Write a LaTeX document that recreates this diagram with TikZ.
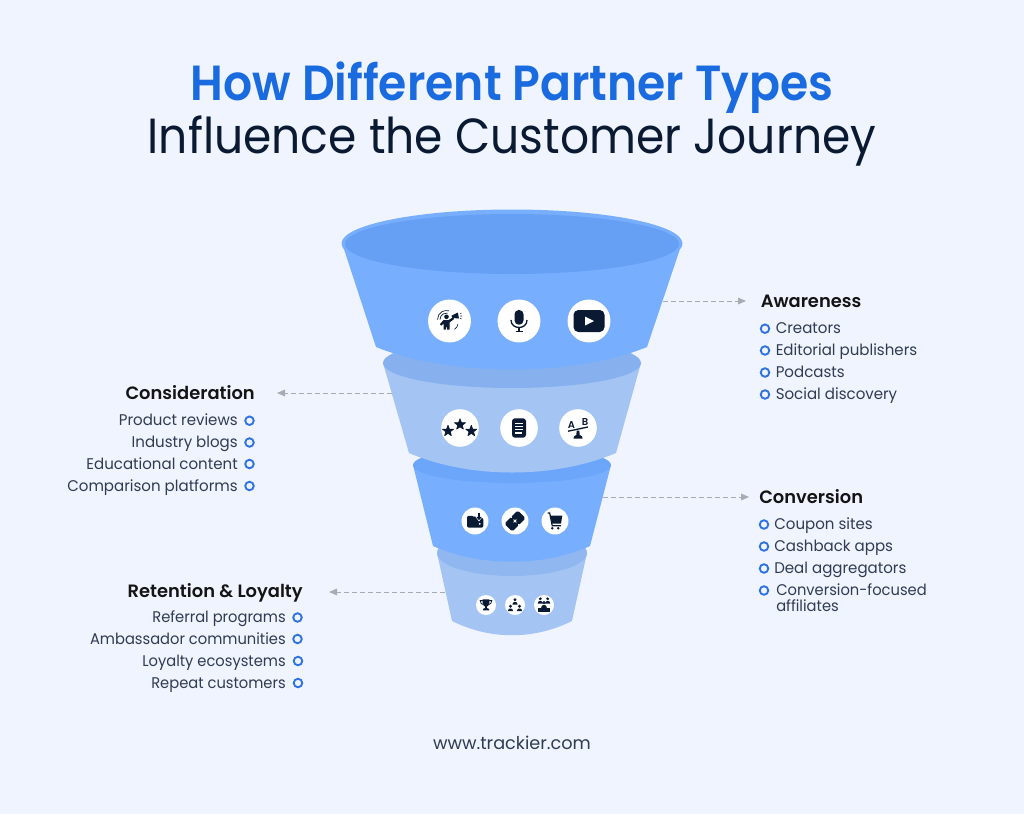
\documentclass[tikz,border=0pt]{standalone}
\usepackage{fontspec}
\usetikzlibrary{arrows.meta}
\setmainfont{Poppins}
\newfontfamily\semifont{Poppins SemiBold}
\newfontfamily\titlebold[FakeStretch=0.926]{Poppins SemiBold}
\newfontfamily\titlereg[FakeStretch=0.924]{Poppins}
\newfontfamily\itemA[FakeStretch=0.972]{Poppins}
\newfontfamily\itemB[FakeStretch=0.95]{Poppins}
\definecolor{bgc}{HTML}{EFF4FE}
\definecolor{blueA}{HTML}{78AEFE}
\definecolor{blueB}{HTML}{65A0F5}
\definecolor{blueC}{HTML}{6BA6FB}
\definecolor{lightA}{HTML}{A4C5F4}
\definecolor{lightB}{HTML}{87B0EE}
\definecolor{lightC}{HTML}{90B7F0}
\definecolor{ink}{HTML}{0B1A33}
\definecolor{titleblue}{HTML}{1A6BE0}
\definecolor{bullet}{HTML}{2F72E4}
\definecolor{dashc}{HTML}{A8ABB0}
\tikzset{
 x=0.75pt,y=-0.75pt,
 itemtext/.style={font=\fontsize{11.6}{12}\itemA,text=ink!85,inner sep=0pt},
 itemtextb/.style={font=\fontsize{11.6}{12}\itemB,text=ink!85,inner sep=0pt},
 headtext/.style={font=\fontsize{13.4}{14}\semifont,text=black!92,inner sep=0pt},
 bulletdot/.style={circle,draw=bullet,line width=1.4pt,fill=none,inner sep=0pt,minimum size=6.4pt},
 link/.style={draw=dashc,line width=0.75pt,dash pattern=on 3.4pt off 2.6pt,-{Triangle[length=6pt,width=5pt,fill=dashc]}},
 iconbg/.style={circle,fill=white,inner sep=0pt},
}
\newcommand\rstar[3]{\filldraw[ink,line width=0.5pt,line join=round,shift={(#1,#2)}] (0,-#3)
 -- (0.24*#3,-0.33*#3) -- (0.95*#3,-0.31*#3) -- (0.39*#3,0.13*#3) -- (0.588*#3,0.81*#3)
 -- (0,0.41*#3) -- (-0.588*#3,0.81*#3) -- (-0.39*#3,0.13*#3) -- (-0.95*#3,-0.31*#3) -- (-0.24*#3,-0.33*#3) -- cycle;}
\newcommand\pers[3]{\fill[ink,shift={(#1,#2)},scale=#3] (0,-2.2) circle (1.6) (-2.6,2.6) .. controls (-2.6,0.2) and (-1.3,0) .. (0,0) .. controls (1.3,0) and (2.6,0.2) .. (2.6,2.6) -- cycle;}
\begin{document}
\begin{tikzpicture}
\useasboundingbox (0,0) rectangle (1024,814);
\fill[bgc] (0,0) rectangle (1024,814);

% Title
\node[inner sep=0pt,anchor=base,text=titleblue,font=\fontsize{37}{40}\titlebold] (title1) at (512,100.7) {How Different Partner Types};
\node[inner sep=0pt,anchor=base,text=ink,font=\fontsize{37}{40}\titlereg] (title2) at (512,153.3) {Influence the Customer Journey};

% Tier 4
\fill[lightA] (437,553) -- (452,621) .. controls (490,640) and (534,640) .. (572,621) -- (587,553) -- cycle;
\fill[lightC] (512,553) ellipse (75 and 23);
% Tier 3
\fill[blueA] (413,465) -- (433,546) .. controls (480,567) and (544,567) .. (590,546) -- (611,465) -- cycle;
\fill[blueC] (512,465) ellipse (99 and 18);
% Tier 2
\fill[lightA] (383,363) -- (409,453) .. controls (470,479) and (554,479) .. (616,453) -- (641,363) -- cycle;
\fill[lightB] (512,363) ellipse (129 and 25);
% Tier 1
\fill[blueA] (342,243) -- (376,347) .. controls (450,377) and (574,377) .. (647,347) -- (682,243) -- cycle;
\fill[blueA] (512,243.5) ellipse (170.5 and 34);
\fill[blueB] (512,244) ellipse (167 and 30);

% Icon discs
\node[iconbg,minimum size=32.2pt] (i1) at (449.5,321) {};
\node[iconbg,minimum size=32.2pt] (i2) at (519,321) {};
\node[iconbg,minimum size=32.2pt] (i3) at (589,321) {};
\node[iconbg,minimum size=28.2pt] (i4) at (460,428) {};
\node[iconbg,minimum size=28.2pt] (i5) at (519,428) {};
\node[iconbg,minimum size=28.2pt] (i6) at (578,428) {};
\node[iconbg,minimum size=20.2pt] (i7) at (475,521) {};
\node[iconbg,minimum size=20.2pt] (i8) at (515,521) {};
\node[iconbg,minimum size=20.2pt] (i9) at (555,521) {};
\node[iconbg,minimum size=15pt] (i10) at (486,605) {};
\node[iconbg,minimum size=15pt] (i11) at (515,605) {};
\node[iconbg,minimum size=15pt] (i12) at (544,605) {};

% Icon 1: person with megaphone
\begin{scope}[shift={(449.5,321)}]
 \fill[ink] (-3,-4.2) circle (2.3);
 \fill[ink] (-6,-1) -- (-1,-1) -- (3.5,-3.7) -- (4.6,-2) -- (0,1.5) -- (0,8.5) -- (-2.3,8.5) -- (-3,4.5) -- (-3.8,8.5) -- (-6,8.5) -- (-5.8,2.5) -- (-8.3,4.7) -- (-9.7,3.3) -- cycle;
 \fill[ink] (2,-5.3) -- (8.3,-8.5) -- (9.5,-2.5) -- (3,-3) -- cycle;
 \draw[ink,line width=0.5pt] (-12,-1.5) arc (180:285:9);
 \draw[ink,line width=0.5pt] (-9.5,-1.5) arc (180:280:6.5);
 \draw[ink,line width=0.5pt] (8.3,3.3) .. controls (8,5.5) and (7,7) .. (5,8.3);
 \draw[ink,line width=0.4pt] (10.5,-7) -- (12,-8) (10.8,-5) -- (12.5,-5) (10.5,-3) -- (12,-2);
\end{scope}

% Icon 2: microphone
\begin{scope}[shift={(519,321)}]
 \fill[ink,rounded corners=3.2pt] (-4.5,-11) rectangle (4.5,3.7);
 \draw[ink,line width=1pt] (-8,-1) .. controls (-8,9) and (8,9) .. (8,-1);
 \draw[ink,line width=1pt] (0,6) -- (0,10.5) (-3.5,10.5) -- (3.5,10.5);
\end{scope}

% Icon 3: video player
\begin{scope}[shift={(589,321)}]
 \fill[ink,rounded corners=3.6pt] (-15.5,-11) rectangle (15.5,11);
 \fill[white] (-4,-4.5) -- (5,0) -- (-4,4.5) -- cycle;
\end{scope}

% Icon 4: stars
\rstar{448}{431}{5.8}
\rstar{460}{424.5}{5.8}
\rstar{471.3}{431}{5.8}

% Icon 5: document
\begin{scope}[shift={(519,428)}]
 \fill[ink,rounded corners=2.2pt] (-7,-9.7) rectangle (7,9.7);
 \draw[white,line width=0.8pt] (-3.7,-4.6) -- (3.7,-4.6) (-3.7,-1.4) -- (3.7,-1.4) (-3.7,1.8) -- (3.7,1.8) (-3.7,5) -- (2.5,5);
\end{scope}

% Icon 6: balance A B
\begin{scope}[shift={(578,428)}]
 \draw[ink,line width=1pt] (-10,3.2) -- (10,-1);
 \fill[ink] (-1.3,2.5) -- (1.3,2.5) -- (1.7,7) .. controls (4,7.5) and (4.5,9) .. (4.5,10.5) -- (-4.5,10.5) .. controls (-4.5,9) and (-4,7.5) .. (-1.7,7) -- cycle;
 \node[inner sep=0pt,text=ink,font=\fontsize{7.5}{8}\semifont] (lblA) at (-6.5,-3.3) {A};
 \node[inner sep=0pt,text=ink,font=\fontsize{7.5}{8}\semifont] (lblB) at (7,-6) {B};
\end{scope}

% Icon 7: wallet with arrow
\begin{scope}[shift={(475,521)}]
 \fill[ink,rounded corners=1.5pt] (-8,-5.2) -- (-1,-5.2) -- (0.5,-3.2) -- (8.3,-3.2) -- (8.3,6.7) -- (-8,6.7) -- cycle;
 \fill[white] (4.8,2.8) circle (1);
 \fill[white] (0.6,-4) -- (7.4,-4) -- (4,0.4) -- cycle;
 \draw[ink,line width=0.8pt] (4,-8.3) -- (4,-2);
 \draw[ink,line width=0.8pt] (1.9,-4) -- (4,-1.6) -- (6.1,-4);
\end{scope}

% Icon 8: ticket
\begin{scope}[shift={(515,521)},rotate=-45]
 \fill[ink,rounded corners=1.2pt] (-5.5,-9.5) rectangle (5.5,9.5);
 \fill[white] (-5.5,0) circle (1.2) (5.5,0) circle (1.2);
 \draw[white,line width=0.6pt] (-2,0) -- (2,0) (0,-2) -- (0,2);
\end{scope}

% Icon 9: cart
\begin{scope}[shift={(555,521)}]
 \draw[ink,line width=0.9pt] (-7.5,-8) -- (-5.3,-8) -- (-2.8,4.7) -- (6,4.7);
 \fill[ink] (-4.5,-5.3) -- (7.3,-5.3) -- (6,2.7) -- (-3,2.7) -- cycle;
 \fill[ink] (-2.7,7.2) circle (1.4) (3.2,7.2) circle (1.4);
\end{scope}

% Icon 10: trophy
\begin{scope}[shift={(486,605)}]
 \fill[ink] (-3.4,-5.7) -- (3.4,-5.7) -- (3.4,-1.7) .. controls (3.4,0.8) and (1,1.3) .. (0.9,1.5) -- (0.9,3) -- (3,3.9) -- (3,5.3) -- (-3,5.3) -- (-3,3.9) -- (-0.9,3) -- (-0.9,1.5) .. controls (-1,1.3) and (-3.4,0.8) .. (-3.4,-1.7) -- cycle;
 \draw[ink,line width=0.6pt] (-3.2,-4.4) -- (-5.8,-4.4) .. controls (-5.8,-1.4) and (-4,-0.7) .. (-2.6,-0.5);
 \draw[ink,line width=0.6pt] (3.2,-4.4) -- (5.8,-4.4) .. controls (5.8,-1.4) and (4,-0.7) .. (2.6,-0.5);
\end{scope}

% Icon 11: hierarchy
\pers{515}{602}{1}
\pers{510.5}{608.5}{1}
\pers{519.5}{608.5}{1}

% Icon 12: group
\pers{540.3}{601}{1}
\pers{547.7}{601}{1}
\pers{544}{605}{1.1}
\fill[ink] (538,608) rectangle (550,611.5);

% Awareness
\node[headtext,anchor=base west] (h1) at (760.5,307.5) {Awareness};
\node[bulletdot] (b11) at (765,328.7) {};
\node[itemtext,anchor=base west] (t11) at (775.5,333) {Creators};
\node[bulletdot] (b12) at (765,350.5) {};
\node[itemtext,anchor=base west] (t12) at (775.5,355) {Editorial publishers};
\node[bulletdot] (b13) at (765,372.5) {};
\node[itemtext,anchor=base west] (t13) at (775.5,377) {Podcasts};
\node[bulletdot] (b14) at (765,394.5) {};
\node[itemtext,anchor=base west] (t14) at (775.5,399) {Social discovery};

% Consideration
\node[headtext,anchor=base east] (h2) at (255,399) {Consideration};
\node[bulletdot] (b21) at (249.5,420.7) {};
\node[itemtext,anchor=base east] (t21) at (238,425) {Product reviews};
\node[bulletdot] (b22) at (249.5,442.5) {};
\node[itemtext,anchor=base east] (t22) at (238,447) {Industry blogs};
\node[bulletdot] (b23) at (249.5,464) {};
\node[itemtext,anchor=base east] (t23) at (238,469) {Educational content};
\node[bulletdot] (b24) at (249.5,486) {};
\node[itemtext,anchor=base east] (t24) at (238,491) {Comparison platforms};

% Conversion
\node[headtext,anchor=base west] (h3) at (759,503.5) {Conversion};
\node[bulletdot] (b31) at (764,524.5) {};
\node[itemtext,anchor=base west] (t31) at (774,529) {Coupon sites};
\node[bulletdot] (b32) at (764,546.5) {};
\node[itemtext,anchor=base west] (t32) at (774,551) {Cashback apps};
\node[bulletdot] (b33) at (764,568.5) {};
\node[itemtext,anchor=base west] (t33) at (774,573) {Deal aggregators};
\node[bulletdot] (b34) at (764,590.5) {};
\node[itemtextb,anchor=base west] (t34) at (776,595) {Conversion-focused};
\node[itemtextb,anchor=base west] (t35) at (776,611.5) {affiliates};

% Retention
\node[headtext,anchor=base east] (h4) at (303,597) {Retention \& Loyalty};
\node[bulletdot] (b41) at (297.5,617.5) {};
\node[itemtextb,anchor=base east] (t41) at (286,622) {Referral programs};
\node[bulletdot] (b42) at (297.5,639) {};
\node[itemtextb,anchor=base east] (t42) at (286,644) {Ambassador communities};
\node[bulletdot] (b43) at (298,661) {};
\node[itemtextb,anchor=base east] (t43) at (286,666) {Loyalty ecosystems};
\node[bulletdot] (b44) at (298,683) {};
\node[itemtextb,anchor=base east] (t44) at (286,688) {Repeat customers};

% Connectors
\coordinate (c1a) at (663,301); \coordinate (c1b) at (746,301);
\coordinate (c2a) at (392,393); \coordinate (c2b) at (277,393);
\coordinate (c3a) at (603,497); \coordinate (c3b) at (749,497);
\coordinate (c4a) at (445,592); \coordinate (c4b) at (329,592);
\draw[link] (c1a) -- (c1b);
\draw[link] (c2a) -- (c2b);
\draw[link] (c3a) -- (c3b);
\draw[link] (c4a) -- (c4b);

% Footer
\node[inner sep=0pt,anchor=base,text=ink!85,font=\fontsize{13.25}{14}\selectfont] (foot) at (512,749) {www.trackier.com};
\end{tikzpicture}
\end{document}
